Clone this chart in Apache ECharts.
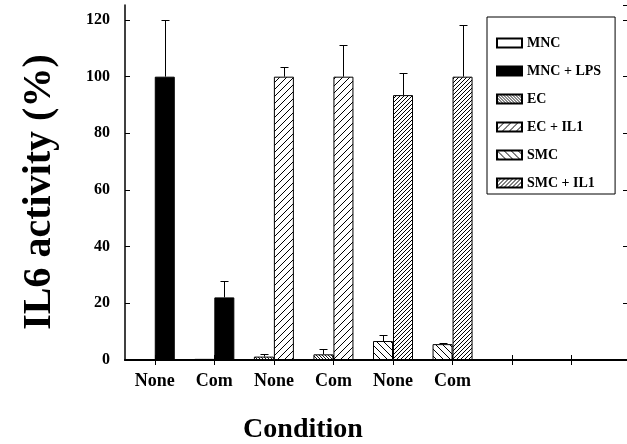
<!DOCTYPE html>
<html>
<head>
<meta charset="utf-8">
<script src="https://cdn.jsdelivr.net/npm/echarts@6/dist/echarts.min.js"></script>
<style>html,body{margin:0;padding:0;background:#fff;}#c{width:627px;height:444px;}</style>
</head>
<body>
<div id="c"></div>
<script>
// ---- data ----
const categories = ['None', 'Com', 'None', 'Com', 'None', 'Com', '', '', ''];
const seriesNames = ['MNC', 'MNC + LPS', 'EC', 'EC + IL1', 'SMC', 'SMC + IL1'];
const mnc      = [0,   0.4,  null, null, null, null];
const mncLps   = [100, 22.1, null, null, null, null];
const ec       = [null, null, 1.2, 2.0, null, null];
const ecIl1    = [null, null, 100, 100, null, null];
const smc      = [null, null, null, null, 6.7, 5.6];
const smcIl1   = [null, null, null, null, 93.5, 100];
// top of the error bars (null = none)
const mncErrTop    = [null, null, null, null, null, null];
const mncLpsErrTop = [120, 27.9, null, null, null, null];
const ecErrTop     = [null, null, 2.1, 3.9, null, null];
const ecIl1ErrTop  = [null, null, 103.5, 111.2, null, null];
const smcErrTop    = [null, null, null, null, 8.8, 5.9];
const smcIl1ErrTop = [null, null, null, null, 101.3, 118.2];
const yTicks = [0, 20, 40, 60, 80, 100, 120];
const yTitle = 'IL6 activity (%)';
const xTitle = 'Condition';

// ---- patterns ----
function hatch(step, dir, lw, fg, bg) {
  const c = document.createElement('canvas');
  c.width = c.height = step;
  const g = c.getContext('2d');
  g.fillStyle = bg; g.fillRect(0, 0, step, step);
  g.strokeStyle = fg; g.lineWidth = lw;
  g.beginPath();
  if (dir > 0) { // '/' : x + y = cst
    [0, step, 2 * step].forEach(k => { g.moveTo(k + 2, -2); g.lineTo(k - step - 2, step + 2); });
  } else {       // '\' : x - y = cst
    [-step, 0, step].forEach(k => { g.moveTo(k - 2, -2); g.lineTo(k + step + 2, step + 2); });
  }
  g.stroke();
  return { image: c, repeat: 'repeat' };
}
const fills = [
  '#ffffff',
  '#000000',
  hatch(3, -1, 0.9, '#000', '#fff'),
  hatch(7, 1, 1, '#000', '#fff'),
  hatch(7, -1, 1, '#000', '#fff'),
  hatch(4, 1, 1, '#000', '#fff')
];
const values = [mnc, mncLps, ec, ecIl1, smc, smcIl1];
const errTops = [mncErrTop, mncLpsErrTop, ecErrTop, ecIl1ErrTop, smcErrTop, smcIl1ErrTop];

const FONT = '"Liberation Serif", "Times New Roman", serif';
const series = values.map((vals, i) => ({
  name: seriesNames[i],
  type: 'bar',
  stack: i % 2 === 0 ? 'L' : 'R',
  barWidth: 20,
  barGap: '0%',
  data: vals.map(v => v === null ? '-' : v),
  itemStyle: { color: fills[i], borderColor: '#000', borderWidth: 1 },
  emphasis: { disabled: true },
  animation: false
}));

const errData = [];
errTops.forEach((tops, i) => {
  tops.forEach((t, k) => {
    if (t !== null && values[i][k] !== null) {
      errData.push([k, values[i][k], t, i % 2 === 0 ? -1 : 1]);
    }
  });
});
series.push({
  name: 'err',
  type: 'custom',
  z: 10,
  animation: false,
  silent: true,
  data: errData,
  encode: { x: 0, y: [1, 2] },
  renderItem: function (params, api) {
    const x = api.value(0), v = api.value(1), t = api.value(2), side = api.value(3);
    const p1 = api.coord([x, v]);
    const p2 = api.coord([x, t]);
    const cx = Math.round(p1[0] + side * 10) + 0.5;
    const ty = Math.round(p2[1]) + 0.5;
    return {
      type: 'group',
      children: [
        { type: 'line', shape: { x1: cx, y1: p1[1], x2: cx, y2: ty }, style: { stroke: '#000', lineWidth: 1 } },
        { type: 'line', shape: { x1: cx - 4, y1: ty, x2: cx + 4, y2: ty }, style: { stroke: '#000', lineWidth: 1 } }
      ]
    };
  }
});

const chart = echarts.init(document.getElementById('c'), null, { renderer: 'canvas' });
chart.setOption({
  backgroundColor: '#fff',
  animation: false,
  grid: { left: 125, width: 536, top: 5, bottom: 84, containLabel: false, outerBoundsMode: 'none' },
  legend: {
    data: seriesNames,
    orient: 'vertical',
    left: 487,
    top: 17,
    icon: 'rect',
    itemWidth: 25,
    itemHeight: 9,
    itemGap: 14,
    padding: [19, 14, 4, 9],
    borderColor: '#000',
    borderWidth: 1,
    backgroundColor: '#fff',
    selectedMode: false,
    textStyle: { fontFamily: FONT, fontWeight: 'bold', fontSize: 14, color: '#000' }
  },
  xAxis: [
    {
      type: 'category', position: 'bottom', data: categories, boundaryGap: true,
      axisLine: { show: true, lineStyle: { color: '#000', width: 2 } },
      axisTick: { show: true, inside: true, alignWithLabel: true, interval: 0, length: 5, lineStyle: { color: '#000' } },
      axisLabel: { interval: 0, margin: 12, fontFamily: FONT, fontWeight: 'bold', fontSize: 18, color: '#000' },
      splitLine: { show: false }
    },
    {
      type: 'category', position: 'top', data: categories, boundaryGap: true,
      axisLine: { show: true, lineStyle: { color: '#000', width: 1.5 } },
      axisTick: { show: true, inside: true, alignWithLabel: true, interval: 0, length: 5, lineStyle: { color: '#000' } },
      axisLabel: { show: false },
      splitLine: { show: false }
    }
  ],
  yAxis: [
    {
      type: 'value', position: 'left', min: 0, max: 125.3, interval: 20,
      axisLine: { show: true, lineStyle: { color: '#000', width: 1.5 } },
      axisTick: { show: true, inside: true, length: 5, lineStyle: { color: '#000' } },
      axisLabel: {
        margin: 15, fontFamily: FONT, fontWeight: 'bold', fontSize: 16, color: '#000',
        showMaxLabel: false,
        formatter: v => (yTicks.indexOf(v) >= 0 ? String(v) : '')
      },
      splitLine: { show: false }
    },
    {
      type: 'value', position: 'right', offset: -33, min: 0, max: 125.3, interval: 20,
      axisLine: { show: true, lineStyle: { color: '#000', width: 1.5 } },
      axisTick: { show: true, inside: true, length: 5, lineStyle: { color: '#000' } },
      axisLabel: { show: false },
      splitLine: { show: false }
    }
  ],
  graphic: [
    {
      type: 'text', x: 303, y: 430,
      style: { text: xTitle, font: 'bold 28px ' + FONT, fill: '#000', align: 'center', verticalAlign: 'middle' }
    },
    {
      type: 'text', x: 40, y: 192, rotation: Math.PI / 2,
      style: { text: yTitle, font: 'bold 40px ' + FONT, fill: '#000', align: 'center', verticalAlign: 'middle' }
    }
  ],
  series: series
});
</script>
</body>
</html>
